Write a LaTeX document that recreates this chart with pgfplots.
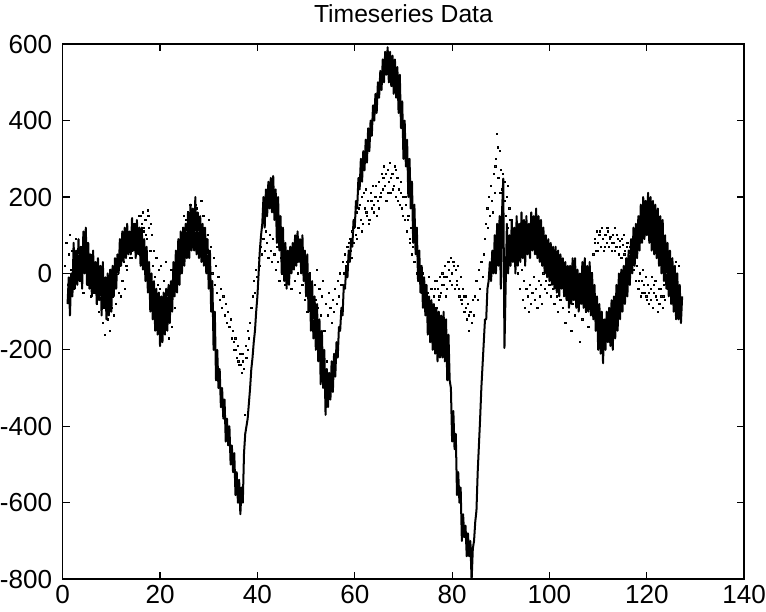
\documentclass[border=0pt]{standalone}
\usepackage{fontspec}
\setmainfont{Liberation Sans}
\usepackage{pgfplots}
\pgfplotsset{compat=1.18}
\begin{document}
\begin{tikzpicture}
\begin{axis}[
  scale only axis, width=339.5pt, height=266.5pt,
  xmin=0, xmax=140, ymin=-800, ymax=600,
  xtick={0,20,...,140}, ytick={-800,-600,...,600},
  tick align=inside, xtick pos=both, ytick pos=both,
  major tick length=3.5pt,
  axis line style={line width=0.75pt},
  every tick/.style={black, line width=0.6pt},
  /pgf/number format/assume math mode=true,
  /pgf/number format/1000 sep={},
  tick label style={font=\fontsize{13}{15}\selectfont},
  xticklabel style={inner sep=0pt, anchor=north, yshift=-3pt},
  yticklabel style={inner sep=0pt, anchor=east, xshift=-5pt},
  title={Timeseries Data},
  title style={font=\fontsize{12.3}{14}\selectfont, at={(0.5,1)}, anchor=base, yshift=5pt, inner sep=0pt},
  clip=true,
]
\addplot[only marks, mark=square*, mark size=0.3pt, mark options={draw=none, fill=black!75}] coordinates {
(0.5,20)(0.75,80)(1,-30)(1.25,50)(1.5,100)(1.75,10)(2,60)(2.25,-40)(2.5,30)(2.75,90)
(3,0)(3.25,50)(3.5,-20)(3.75,70)(4,20)(4.25,-50)(4.5,40)(4.75,10)(5,80)(5.25,-30)
(5.5,20)(5.75,-60)(6,30)(6.25,-10)(6.5,-50)(6.75,10)(7,-80)(7.25,-30)(7.5,-100)(7.75,-60)
(8,-20)(8.25,-130)(8.5,-90)(8.75,-160)(9,-70)(9.25,-120)(9.5,-40)(9.75,-150)(10,-90)(10.25,-60)
(10.5,-110)(10.75,-30)(11,-80)(11.25,0)(11.5,-50)(11.75,20)(12,-60)(12.25,-20)(12.5,30)(12.75,-40)
(13,50)(13.25,10)(13.5,70)(13.75,40)(14,90)(14.25,60)(14.5,110)(14.75,80)(15,130)(15.25,70)
(15.5,100)(15.75,150)(16,90)(16.25,130)(16.5,160)(16.75,110)(17,140)(17.25,90)(17.5,165)(17.75,120)
(18,60)(18.25,100)(18.5,20)(18.75,60)(19,-10)(19.25,40)(19.5,-30)(19.75,10)(20,-40)(20.25,20)
(20.5,-80)(20.75,-20)(21,-120)(21.25,30)(21.5,-60)(21.75,-170)(22,-100)(22.25,10)(22.5,-140)(22.75,-40)
(23,-90)(23.25,40)(23.5,-20)(23.75,20)(24,60)(24.25,90)(24.5,40)(24.75,120)(25,80)(25.25,140)
(25.5,100)(25.75,160)(26,110)(26.25,180)(26.5,130)(26.75,90)(27,150)(27.25,110)(27.5,170)(27.75,70)
(28,130)(28.25,100)(28.5,190)(28.75,60)(29,120)(29.25,30)(29.5,90)(29.75,50)(30,140)(30.25,20)
(30.5,70)(30.75,0)(31,40)(31.25,-30)(31.5,20)(31.75,-50)(32,-10)(32.25,-70)(32.5,-40)(32.75,-90)
(33,-60)(33.25,-110)(33.5,-80)(33.75,-130)(34,-100)(34.25,-140)(34.5,-120)(34.75,-170)(35,-150)(35.25,-200)
(35.5,-170)(35.75,-220)(36,-190)(36.25,-240)(36.5,-210)(36.75,-260)(37,-230)(37.25,-250)(37.5,-370)(37.75,-220)
(38,-200)(38.25,-170)(38.5,-130)(38.75,-90)(39,-60)(39.25,-20)(39.5,-50)(39.75,10)(40,-10)(40.25,40)
(40.5,20)(40.75,70)(41,50)(41.25,90)(41.5,60)(41.75,110)(42,80)(42.25,40)(42.5,100)(42.75,60)
(43,30)(43.25,90)(43.5,50)(43.75,10)(44,70)(44.25,30)(44.5,-20)(44.75,40)(45,0)(45.25,60)
(45.5,20)(45.75,-30)(46,30)(46.25,-10)(46.5,50)(46.75,10)(47,-40)(47.25,20)(47.5,60)(47.75,-20)
(48,30)(48.25,0)(48.5,50)(48.75,-50)(49,20)(49.25,-30)(49.5,10)(49.75,-70)(50,-20)(50.25,-100)
(50.5,-40)(50.75,0)(51,-80)(51.25,-50)(51.5,-120)(51.75,-30)(52,-70)(52.25,10)(52.5,-90)(52.75,-40)
(53,-110)(53.25,-60)(53.5,-20)(53.75,-150)(54,-80)(54.25,-230)(54.5,-110)(54.75,-50)(55,-90)(55.25,-130)
(55.5,-70)(55.75,-100)(56,-40)(56.25,-80)(56.5,-20)(56.75,-60)(57,0)(57.25,-30)(57.5,30)(57.75,0)
(58,50)(58.25,20)(58.5,70)(58.75,40)(59,90)(59.25,60)(59.5,110)(59.75,80)(60,130)(60.25,100)
(60.5,160)(60.75,120)(61,180)(61.25,140)(61.5,200)(61.75,130)(62,170)(62.25,220)(62.5,150)(62.75,190)
(63,140)(63.25,210)(63.5,170)(63.75,230)(64,160)(64.25,200)(64.5,150)(64.75,190)(65,240)(65.25,200)
(65.5,260)(65.75,220)(66,280)(66.25,230)(66.5,190)(66.75,270)(67,240)(67.25,290)(67.5,210)(67.75,260)
(68,230)(68.25,280)(68.5,200)(68.75,250)(69,220)(69.25,180)(69.5,240)(69.75,170)(70,200)(70.25,140)
(70.5,180)(70.75,110)(71,150)(71.25,80)(71.5,120)(71.75,50)(72,90)(72.25,30)(72.5,60)(72.75,0)
(73,40)(73.25,-20)(73.5,20)(73.75,-50)(74,0)(74.25,-70)(74.5,-30)(74.75,-90)(75,-50)(75.25,-10)
(75.5,-80)(75.75,-40)(76,-110)(76.25,-60)(76.5,-20)(76.75,-90)(77,-40)(77.25,-70)(77.5,-10)(77.75,-50)
(78,0)(78.25,-30)(78.5,20)(78.75,-60)(79,-10)(79.25,30)(79.5,-20)(79.75,40)(80,0)(80.25,30)
(80.5,-40)(80.75,10)(81,-30)(81.25,20)(81.5,-60)(81.75,-10)(82,-80)(82.25,-40)(82.5,-100)(82.75,-60)
(83,-120)(83.25,-80)(83.5,-150)(83.75,-100)(84,-130)(84.25,-70)(84.5,-110)(84.75,-60)(85,-20)(85.25,-70)
(85.5,10)(85.75,-40)(86,30)(86.25,-10)(86.5,50)(86.75,90)(87,130)(87.25,170)(87.5,200)(87.75,150)
(88,230)(88.25,190)(88.5,260)(88.75,210)(89,300)(89.25,366)(89.5,250)(89.75,320)(90,270)(90.25,220)
(90.5,180)(90.75,240)(91,150)(91.25,200)(91.5,120)(91.75,170)(92,90)(92.25,140)(92.5,60)(92.75,110)
(93,30)(93.25,80)(93.5,0)(93.75,50)(94,-40)(94.25,10)(94.5,-70)(94.75,-20)(95,-90)(95.25,-40)
(95.5,-60)(95.75,-100)(96,-30)(96.25,-80)(96.5,-50)(96.75,-10)(97,-70)(97.25,-40)(97.5,-90)(97.75,-20)
(98,-60)(98.25,-30)(98.5,-80)(98.75,0)(99,-40)(99.25,-20)(99.5,-50)(99.75,10)(100,-30)(100.25,-60)
(100.5,0)(100.75,-40)(101,-80)(101.25,-20)(101.5,-60)(101.75,-100)(102,-40)(102.25,-70)(102.5,-20)(102.75,-90)
(103,-50)(103.25,-130)(103.5,-70)(103.75,-30)(104,-100)(104.25,-60)(104.5,-150)(104.75,-80)(105,-40)(105.25,-110)
(105.5,-60)(105.75,-20)(106,-90)(106.25,-180)(106.5,-50)(106.75,-120)(107,-70)(107.25,-30)(107.5,-100)(107.75,-60)
(108,-140)(108.25,-40)(108.5,-80)(108.75,0)(109,50)(109.25,90)(109.5,60)(109.75,110)(110,80)(110.25,100)
(110.5,70)(110.75,120)(111,90)(111.25,60)(111.5,100)(111.75,80)(112,110)(112.25,70)(112.5,95)(112.75,60)
(113,100)(113.25,80)(113.5,120)(113.75,70)(114,90)(114.25,50)(114.5,85)(114.75,40)(115,75)(115.25,100)
(115.5,60)(115.75,30)(116,80)(116.25,40)(116.5,70)(116.75,20)(117,50)(117.25,10)(117.5,30)(117.75,-20)
(118,20)(118.25,-40)(118.5,0)(118.75,-60)(119,-20)(119.25,10)(119.5,-50)(119.75,-10)(120,-70)(120.25,-30)
(120.5,-80)(120.75,-40)(121,-10)(121.25,-90)(121.5,-50)(121.75,-20)(122,-70)(122.25,-100)(122.5,-40)(122.75,-80)
(123,-60)(123.25,-90)(123.5,-30)(123.75,-70)(124,0)(124.25,-40)(124.5,30)(124.75,-20)(125,20)(125.25,-50)
(125.5,10)(125.75,-30)(126,30)(126.25,-10)(126.5,20)
(13.1,20)(13.6,90)(14.1,40)(14.6,130)(15.1,100)(15.6,60)(16.1,150)(16.6,120)(17.1,100)(17.6,150)(18.1,130)
(24.4,70)(24.9,150)(25.4,110)(25.9,130)(26.4,160)(26.9,120)(27.4,180)(27.9,110)(28.4,80)(28.9,150)(29.4,70)(29.9,100)
(35.1,-180)(35.6,-200)(36.1,-230)(36.6,-240)(37.1,-210)(37.6,-190)(38.1,-150)
(58.4,30)(58.9,80)(59.4,40)(59.9,120)(60.4,90)(60.9,170)(61.4,110)(61.9,210)(62.4,160)(62.9,130)
(63.4,190)(63.9,180)(64.4,230)(64.9,170)(65.4,210)(65.9,250)(66.4,260)(66.9,210)(67.4,250)(67.9,220)
(68.4,270)(68.9,190)(69.4,210)(69.9,150)(70.4,200)(70.9,140)(71.4,90)(71.9,70)
(76.4,-40)(76.9,-20)(77.4,-60)(77.9,-30)(78.4,-10)(78.9,-40)(79.4,10)(79.9,-30)(80.4,20)(80.9,-20)
(81.4,-40)(81.9,-70)(82.4,-60)(82.9,-90)(83.4,-110)
(87.4,120)(87.9,230)(88.4,160)(88.9,280)(89.4,330)(89.9,210)(90.4,260)(90.9,190)(91.4,230)(91.9,140)(92.4,100)
(109.4,80)(109.9,60)(110.4,110)(110.9,90)(111.4,70)(111.9,120)(112.4,90)(112.9,80)(113.4,60)(113.9,100)
(114.4,70)(114.9,90)(115.4,50)(115.9,70)(116.4,50)
(118.4,-20)(118.9,-50)(119.4,-30)(119.9,-60)(120.4,-50)(120.9,-70)(121.4,-30)(121.9,-60)(122.4,-80)(122.9,-40)
(123.4,-60)(123.9,-20)
};
\addplot[black, line width=1pt, line join=round] coordinates {
(1,-80)(1.25,-10)(1.5,-110)(1.75,0)(2,-60)(2.25,80)(2.5,-40)(2.75,60)
(3,-30)(3.25,90)(3.5,-20)(3.75,70)(4,-40)(4.25,110)(4.5,0)(4.75,120)
(5,-30)(5.25,80)(5.5,-40)(5.75,50)(6,-60)(6.25,60)(6.5,-50)(6.75,30)
(7,-80)(7.25,40)(7.5,-70)(7.75,20)(8,-110)(8.25,30)(8.5,-90)(8.75,-10)
(9,-120)(9.25,0)(9.5,-110)(9.75,10)(10,-100)(10.25,20)(10.5,-60)(10.75,40)
(11,-40)(11.25,50)(11.5,0)(11.75,90)(12,20)(12.25,110)(12.5,30)(12.75,120)
(13,40)(13.25,130)(13.5,50)(13.75,110)(14,50)(14.25,145)(14.5,60)(14.75,130)
(15,40)(15.25,140)(15.5,50)(15.75,120)(16,20)(16.25,120)(16.5,10)(16.75,90)
(17,-20)(17.25,70)(17.5,-50)(17.75,30)(18,-100)(18.25,0)(18.5,-120)(18.75,-20)
(19,-150)(19.25,-40)(19.5,-160)(19.75,-50)(20,-190)(20.25,-60)(20.5,-180)(20.75,-50)
(21,-160)(21.25,-40)(21.5,-150)(21.75,-30)(22,-130)(22.25,-20)(22.5,-100)(22.75,30)
(23,-60)(23.25,60)(23.5,-50)(23.75,90)(24,-30)(24.25,110)(24.5,0)(24.75,120)
(25,20)(25.25,130)(25.5,40)(25.75,160)(26,40)(26.25,180)(26.5,60)(26.75,170)
(27,60)(27.25,200)(27.5,50)(27.75,160)(28,40)(28.25,150)(28.5,30)(28.75,130)
(29,20)(29.25,120)(29.5,0)(29.75,90)(30,-40)(30.25,60)(30.5,-100)(30.75,-20)
(31,-200)(31.25,-100)(31.5,-280)(31.75,-200)(32,-300)(32.25,-250)(32.5,-350)(32.75,-300)
(33,-380)(33.25,-330)(33.5,-440)(33.75,-380)(34,-450)(34.25,-400)(34.5,-500)(34.75,-450)
(35,-520)(35.25,-470)(35.5,-580)(35.75,-520)(36,-600)(36.25,-540)(36.5,-630)(36.75,-560)
(37,-600)(37.25,-470)(37.5,-420)(37.75,-400)(38,-380)(38.25,-340)(38.5,-300)(38.75,-250)
(39,-220)(39.25,-180)(39.5,-150)(39.75,-100)(40,-60)(40.25,0)(40.5,60)(40.75,100)
(41,130)(41.25,200)(41.5,120)(41.75,220)(42,150)(42.25,240)(42.5,170)(42.75,250)
(43,160)(43.25,255)(43.5,140)(43.75,220)(44,80)(44.25,200)(44.5,60)(44.75,150)
(45,0)(45.25,120)(45.5,-20)(45.75,80)(46,-40)(46.25,60)(46.5,-30)(46.75,70)
(47,0)(47.25,80)(47.5,10)(47.75,100)(48,20)(48.25,110)(48.5,30)(48.75,90)
(49,0)(49.25,100)(49.5,-20)(49.75,60)(50,-60)(50.25,50)(50.5,-100)(50.75,0)
(51,-150)(51.25,-20)(51.5,-170)(51.75,-60)(52,-200)(52.25,-80)(52.5,-230)(52.75,-120)
(53,-290)(53.25,-150)(53.5,-300)(53.75,-200)(54,-370)(54.25,-250)(54.5,-350)(54.75,-260)
(55,-330)(55.25,-230)(55.5,-310)(55.75,-210)(56,-270)(56.25,-180)(56.5,-220)(56.75,-140)
(57,-150)(57.25,-90)(57.5,-110)(57.75,-30)(58,-40)(58.25,20)(58.5,-10)(58.75,60)
(59,30)(59.25,90)(59.5,70)(59.75,140)(60,120)(60.25,190)(60.5,170)(60.75,250)
(61,220)(61.25,300)(61.5,240)(61.75,320)(62,270)(62.25,350)(62.5,290)(62.75,380)
(63,320)(63.25,400)(63.5,360)(63.75,440)(64,400)(64.25,470)(64.5,420)(64.75,500)
(65,460)(65.25,530)(65.5,480)(65.75,560)(66,500)(66.25,580)(66.5,520)(66.75,592)
(67,500)(67.25,580)(67.5,490)(67.75,570)(68,470)(68.25,560)(68.5,460)(68.75,540)
(69,420)(69.25,520)(69.5,380)(69.75,450)(70,300)(70.25,400)(70.5,280)(70.75,350)
(71,200)(71.25,300)(71.5,170)(71.75,240)(72,80)(72.25,180)(72.5,50)(72.75,120)
(73,-20)(73.25,60)(73.5,-50)(73.75,20)(74,-90)(74.25,-10)(74.5,-110)(74.75,-30)
(75,-160)(75.25,-60)(75.5,-180)(75.75,-70)(76,-200)(76.25,-80)(76.5,-210)(76.75,-90)
(77,-230)(77.25,-100)(77.5,-220)(77.75,-110)(78,-220)(78.25,-100)(78.5,-230)(78.75,-120)
(79,-280)(79.25,-160)(79.5,-280)(79.75,-300)(80,-440)(80.25,-360)(80.5,-460)(80.75,-420)
(81,-580)(81.25,-520)(81.5,-600)(81.75,-560)(82,-700)(82.25,-630)(82.5,-690)(82.75,-660)
(83,-740)(83.25,-680)(83.5,-740)(83.75,-700)(84,-805)(84.25,-720)(84.5,-700)(84.75,-650)
(85,-620)(85.25,-520)(85.5,-450)(85.75,-380)(86,-300)(86.25,-240)(86.5,-180)(86.75,-120)
(87,-120)(87.25,-40)(87.5,-20)(87.75,30)(88,-20)(88.25,60)(88.5,0)(88.75,100)
(89,0)(89.25,130)(89.5,20)(89.75,150)(90,-40)(90.25,160)(90.5,248)(90.75,-195)
(91,-30)(91.25,130)(91.5,0)(91.75,100)(92,20)(92.25,140)(92.5,30)(92.75,120)
(93,0)(93.25,150)(93.5,20)(93.75,130)(94,30)(94.25,160)(94.5,40)(94.75,140)
(95,20)(95.25,150)(95.5,50)(95.75,130)(96,40)(96.25,160)(96.5,60)(96.75,150)
(97,50)(97.25,170)(97.5,40)(97.75,150)(98,30)(98.25,140)(98.5,20)(98.75,120)
(99,0)(99.25,100)(99.5,-10)(99.75,90)(100,-20)(100.25,80)(100.5,-30)(100.75,70)
(101,-40)(101.25,70)(101.5,-50)(101.75,60)(102,-60)(102.25,50)(102.5,-40)(102.75,40)
(103,-60)(103.25,30)(103.5,-70)(103.75,20)(104,-90)(104.25,20)(104.5,-80)(104.75,40)
(105,-70)(105.25,40)(105.5,-90)(105.75,10)(106,-100)(106.25,0)(106.5,-80)(106.75,30)
(107,-90)(107.25,40)(107.5,-100)(107.75,20)(108,-100)(108.25,30)(108.5,-110)(108.75,0)
(109,-120)(109.25,-30)(109.5,-150)(109.75,-60)(110,-200)(110.25,-80)(110.5,-210)(110.75,-100)
(111,-235)(111.25,-120)(111.5,-200)(111.75,-100)(112,-180)(112.25,-90)(112.5,-190)(112.75,-70)
(113,-200)(113.25,-60)(113.5,-170)(113.75,-30)(114,-150)(114.25,0)(114.5,-120)(114.75,10)
(115,-100)(115.25,20)(115.5,-80)(115.75,40)(116,-60)(116.25,60)(116.5,-30)(116.75,90)
(117,0)(117.25,120)(117.5,20)(117.75,130)(118,40)(118.25,150)(118.5,60)(118.75,180)
(119,80)(119.25,200)(119.5,90)(119.75,190)(120,100)(120.25,211)(120.5,80)(120.75,200)
(121,60)(121.25,190)(121.5,50)(121.75,180)(122,40)(122.25,170)(122.5,20)(122.75,150)
(123,0)(123.25,140)(123.5,-20)(123.75,100)(124,-40)(124.25,80)(124.5,-60)(124.75,60)
(125,-80)(125.25,40)(125.5,-100)(125.75,20)(126,-120)(126.25,0)(126.5,-120)(126.75,-30)
(127,-130)(127.25,-60)
};
\end{axis}
\path (current axis.south west) ++(0,-16pt);
\path (current axis.north west) ++(0,22pt);
\end{tikzpicture}
\end{document}
